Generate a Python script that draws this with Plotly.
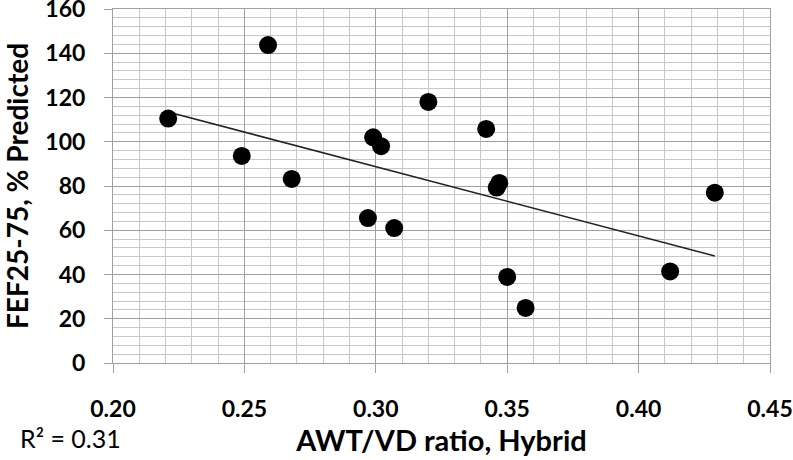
import numpy as np
import plotly.graph_objects as go

awt_vd = [0.221, 0.259, 0.249, 0.268, 0.299, 0.302, 0.320, 0.297, 0.307,
          0.342, 0.347, 0.346, 0.350, 0.357, 0.412, 0.429]
fef = [110.5, 143.7, 93.6, 83.2, 102.0, 98.0, 118.0, 65.5, 61.0,
       105.8, 81.4, 79.3, 38.9, 24.9, 41.4, 77.0]

x_ticks = [0.20, 0.25, 0.30, 0.35, 0.40, 0.45]
x_tick_labels = ["0.20", "0.25", "0.30", "0.35", "0.40", "0.45"]
y_ticks = [0, 20, 40, 60, 80, 100, 120, 140, 160]
r2_label = "R\u00b2 = 0.31"

slope, intercept = np.polyfit(awt_vd, fef, 1)
trend_x = [min(awt_vd), max(awt_vd)]
trend_y = [slope * v + intercept for v in trend_x]

FONT = "Lato"
MAJOR = "#a0a0a0"
MINOR = "#c8c8c8"

fig = go.Figure()
fig.add_trace(go.Scatter(x=trend_x, y=trend_y, mode="lines",
                         line=dict(color="#222222", width=1.6),
                         hoverinfo="skip", showlegend=False))
fig.add_trace(go.Scatter(x=awt_vd, y=fef, mode="markers",
                         marker=dict(color="black", size=18),
                         showlegend=False))

fig.update_layout(
    width=793, height=460,
    margin=dict(l=113, r=23, t=9, b=97),
    paper_bgcolor="white", plot_bgcolor="white",
    font=dict(family=FONT, color="black"),
    xaxis=dict(
        range=[0.20, 0.45], tickvals=x_ticks, ticktext=x_tick_labels,
        automargin=False, ticklabeloverflow="allow",
        showgrid=True, gridcolor=MAJOR, gridwidth=1,
        minor=dict(dtick=0.01, showgrid=True, gridcolor=MINOR, gridwidth=1),
        showline=True, linecolor=MAJOR, linewidth=1, mirror=True,
        ticks="outside", ticklen=9, tickcolor=MAJOR,
        tickfont=dict(family=FONT, size=23, weight="bold"),
        ticklabelstandoff=16,
        zeroline=False,
        title=dict(text="AWT/VD ratio, Hybrid",
                   font=dict(family=FONT, size=29, weight="bold"),
                   standoff=8),
    ),
    yaxis=dict(
        range=[0, 160], tickvals=y_ticks,
        automargin=False, ticklabeloverflow="allow",
        showgrid=True, gridcolor=MAJOR, gridwidth=1,
        minor=dict(dtick=4, showgrid=True, gridcolor=MINOR, gridwidth=1),
        showline=True, linecolor=MAJOR, linewidth=1, mirror=True,
        ticks="outside", ticklen=8, tickcolor=MAJOR,
        tickfont=dict(family=FONT, size=23, weight="bold"),
        ticklabelstandoff=14,
        zeroline=False,
        title=dict(text="FEF25-75, % Predicted",
                   font=dict(family=FONT, size=28, weight="bold"),
                   standoff=8),
    ),
    annotations=[dict(text=r2_label, xref="paper", yref="paper",
                      x=-0.1446, y=-0.213, xanchor="left", yanchor="middle",
                      showarrow=False,
                      font=dict(family=FONT, size=25, color="black"))],
)

fig.write_html("out.html", config={"displayModeBar": False},
               post_script="document.body.style.margin='0';document.body.style.overflow='hidden';")
